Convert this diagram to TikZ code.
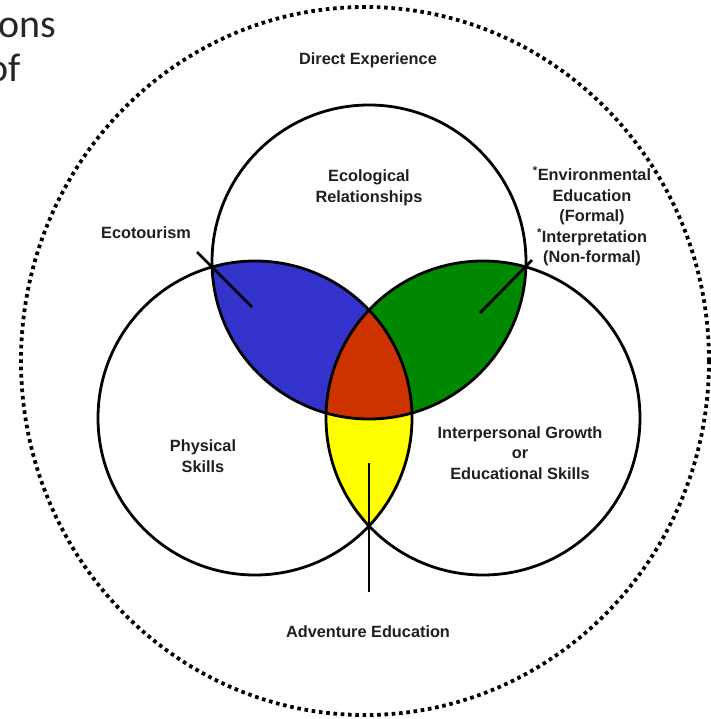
\documentclass[tikz,border=0pt]{standalone}
\usepackage{fontspec}
\setmainfont{Liberation Sans}
\newfontfamily\pagefont{Carlito}
\definecolor{vblue}{RGB}{51,51,204}
\definecolor{vgreen}{RGB}{0,136,0}
\definecolor{vred}{RGB}{204,51,0}
\definecolor{vyellow}{RGB}{255,255,0}
\begin{document}
\begin{tikzpicture}[x=1pt,y=-1pt,
  ring/.style={draw=black,line width=2.8pt},
  conn/.style={draw=black,line width=2.8pt},
  lbl/.style={font=\bfseries\fontsize{16.3}{20.5}\selectfont,align=center,inner sep=0pt,text=black!88},
  pagetxt/.style={font=\pagefont\fontsize{40}{44}\selectfont,inner sep=0pt,anchor=base east,text=black!85}]
\useasboundingbox (0,0) rectangle (710,719);
% centres
\coordinate (cT) at (369,262);
\coordinate (cL) at (255,418);
\coordinate (cR) at (483,418);
% outer dotted boundary
\draw[line width=3.8pt,dash pattern=on 3.6pt off 3.7pt] (365,361) ellipse [x radius=344pt,y radius=354pt];
% fills
\begin{scope}
  \clip (cL) circle[radius=157pt];
  \fill[vyellow] (cR) circle[radius=157pt];
\end{scope}
\begin{scope}
  \clip (cT) circle[radius=157pt];
  \fill[vblue] (cL) circle[radius=157pt];
  \fill[vgreen] (cR) circle[radius=157pt];
\end{scope}
\begin{scope}
  \clip (cT) circle[radius=157pt];
  \clip (cL) circle[radius=157pt];
  \fill[vred] (cR) circle[radius=157pt];
\end{scope}
% circles
\draw[ring] (cT) circle[radius=157pt];
\draw[ring] (cL) circle[radius=157pt];
\draw[ring] (cR) circle[radius=157pt];
% labels
\node[lbl] (direct) at (368,60) {Direct Experience};
\node[lbl] (ecol) at (369,188) {Ecological\\Relationships};
\node[lbl] (env) at (592,216.5) {\textsuperscript{*}Environmental\\Education\\(Formal)\\\textsuperscript{*}Interpretation\\(Non-formal)};
\node[lbl] (ecot) at (146,233) {Ecotourism};
\node[lbl] (phys) at (203,456) {Physical\\Skills};
\node[lbl] (inter) at (520,453) {Interpersonal Growth\\or\\Educational Skills};
\node[lbl] (adv) at (368,632) {Adventure Education};
% cropped page text
\node[pagetxt] (ons) at (56,38) {ons};
\node[pagetxt] (of) at (21,82) {of};
% connectors
\coordinate (ecoA) at (197,252);
\coordinate (ecoB) at (252,307);
\coordinate (envA) at (532,260);
\coordinate (envB) at (480,313);
\coordinate (advA) at (369,463);
\coordinate (advB) at (369,592);
\draw[conn] (ecoA) -- (ecoB);
\draw[conn] (envA) -- (envB);
\draw[conn] (advA) -- (advB);
\end{tikzpicture}
\end{document}
